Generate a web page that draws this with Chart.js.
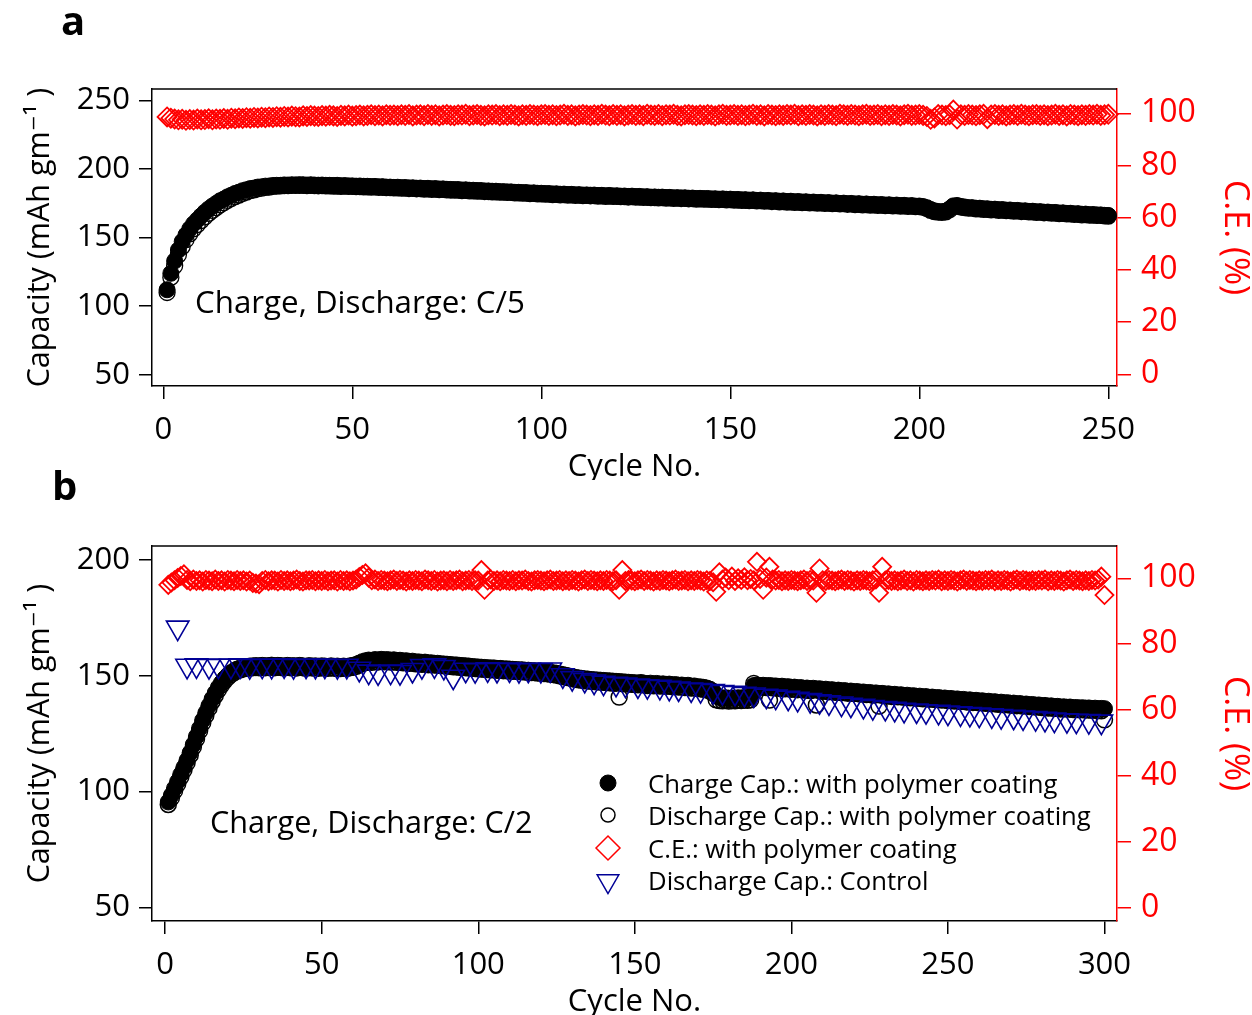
<!DOCTYPE html>
<html><head><meta charset="utf-8">
<script src="https://cdn.jsdelivr.net/npm/chart.js@4.4.1/dist/chart.umd.min.js"></script>
<style>
html,body{margin:0;padding:0;background:#fff;}
body{width:1252px;height:1015px;position:relative;overflow:hidden;}
canvas{position:absolute;left:0;}
#ca{top:0;} #cb{top:460px;}
</style></head><body>
<canvas id="ca" width="1252" height="480"></canvas>
<canvas id="cb" width="1252" height="555"></canvas>
<script>
// ---------- Panel a data (cycles 1..250) ----------
const cyclesA = Array.from({length: 250}, (_, i) => i + 1);
const chargeA = [
112,124,133,141,147.2,152,156.4,160.1,163,165.9,
168.6,171,173.1,175,176.9,178.2,179.8,181,182.3,183.2,
184.3,185,185.8,186.2,186.9,187.1,187.6,187.7,188.1,188.2,
188.2,188.5,188.4,188.6,188.5,188.7,188.6,188.4,188.6,188.4,
188.3,188.4,188.2,188.2,188.1,188.2,187.9,188,187.8,187.8,
187.6,187.7,187.5,187.5,187.3,187.4,187.1,187.2,186.9,186.9,
186.7,186.8,186.5,186.6,186.3,186.4,186.1,186.2,185.9,186,
185.7,185.8,185.5,185.6,185.3,185.2,185.1,185.1,184.8,184.9,
184.6,184.6,184.4,184.4,184.1,184.1,183.9,183.9,183.6,183.6,
183.4,183.4,183.1,183.1,182.9,182.9,182.6,182.7,182.4,182.4,
182.2,182.2,181.9,182,181.7,181.8,181.5,181.6,181.3,181.4,
181.1,181.2,181,181.1,180.8,180.9,180.6,180.8,180.5,180.6,
180.3,180.4,180.1,180.3,180,180.1,179.8,179.9,179.6,179.7,
179.5,179.6,179.3,179.4,179.1,179.2,179,179.1,178.8,178.9,
178.6,178.7,178.5,178.6,178.3,178.4,178.1,178.3,178,178.1,
177.8,177.9,177.6,177.7,177.4,177.6,177.2,177.4,177,177.2,
176.8,177,176.6,176.8,176.4,176.6,176.2,176.4,176,176.2,
175.8,176,175.6,175.8,175.4,175.6,175.2,175.4,175,175.2,
174.8,175,174.6,174.8,174.4,174.6,174.2,174.4,174,174.2,
173.8,174,173.6,173.8,173.4,173.6,173.2,173.4,173,173.1,
172.7,171.9,170.6,169.6,169.1,169,169.4,171,173.2,173.5,
172.8,172.4,171.9,171.9,171.5,171.5,171.1,171.1,170.7,170.8,
170.4,170.5,170.1,170.2,169.8,169.9,169.5,169.6,169.2,169.3,
168.9,169,168.6,168.7,168.3,168.4,168,168.1,167.7,167.8,
167.4,167.5,167.1,167.2,166.8,166.9,166.6,166.6,166.3,166.2];
const dischargeA = [
110,121,129.5,137.5,143.5,148.5,152.8,156.5,159.5,162.5,
165.2,167.7,169.9,171.9,173.9,175.5,177.2,178.6,180,181.1,
182.4,183.3,184.3,184.9,185.7,186.1,186.7,186.9,187.4,187.6,
187.8,188,188,188.1,188.1,188.2,188.2,188,188.1,188,
187.9,188,187.8,187.8,187.7,187.7,187.5,187.6,187.4,187.4,
187.2,187.3,187.1,187.1,186.9,187,186.7,186.8,186.5,186.5,
186.3,186.4,186.1,186.2,185.9,186,185.7,185.8,185.5,185.6,
185.3,185.4,185.1,185.2,184.9,184.8,184.7,184.7,184.4,184.5,
184.2,184.2,184,184,183.7,183.7,183.5,183.5,183.2,183.2,
183,183,182.7,182.7,182.5,182.5,182.2,182.3,182,182,
181.8,181.8,181.5,181.6,181.3,181.4,181.1,181.2,180.9,181,
180.7,180.8,180.6,180.7,180.4,180.5,180.2,180.4,180.1,180.2,
179.9,180,179.7,179.9,179.6,179.7,179.4,179.5,179.2,179.3,
179.1,179.2,178.9,179,178.7,178.8,178.6,178.7,178.4,178.5,
178.2,178.3,178.1,178.2,177.9,178,177.7,177.9,177.6,177.7,
177.4,177.5,177.2,177.3,177,177.2,176.8,177,176.6,176.8,
176.4,176.6,176.2,176.4,176,176.2,175.8,176,175.6,175.8,
175.4,175.6,175.2,175.4,175,175.2,174.8,175,174.6,174.8,
174.4,174.6,174.2,174.4,174,174.2,173.8,174,173.6,173.8,
173.4,173.6,173.2,173.4,173,173.2,172.8,173,172.6,172.7,
172.2,171.3,170,169,168.6,168.5,168.9,170.4,172.6,173,
172.4,172,171.5,171.5,171.1,171.1,170.7,170.7,170.3,170.4,
170,170.1,169.7,169.8,169.4,169.5,169.1,169.2,168.8,168.9,
168.5,168.6,168.2,168.3,167.9,168,167.6,167.7,167.3,167.4,
167,167.1,166.7,166.8,166.4,166.5,166.2,166.2,165.9,165.8];
const ceA = [
98.6,98.1,97.8,97.5,97.7,97.3,97.6,97.4,97.8,97.5,
97.6,97.9,97.5,97.8,97.7,98,97.7,98.1,97.9,98.2,
98,98.3,98.1,98.4,98.2,98.5,98.3,98.6,98.4,98.7,
98.5,98.8,98.6,98.9,98.7,98.6,99,98.8,99.1,98.9,
98.8,99.1,98.9,99.2,99,98.8,99.2,99,99.3,98.9,
99.1,99.3,99,99.2,99.4,99.1,99.3,99,99.4,99.2,
99.3,99.1,99.4,99.2,99.5,99,99.3,99.4,99.1,99.5,
99.2,99.4,99,99.3,99.5,99.2,99.1,99.4,99.3,99.6,
99.1,99.3,99.5,99.2,99,99.4,99.3,99.5,99.1,99.4,
99.2,99.5,99.3,99,99.4,99.2,99.5,99.3,99.1,99.4,
99.5,99.2,99.4,99.1,99.3,99.6,99.2,99.4,99,99.3,
99.5,99.3,99.1,99.4,99.2,99.6,99.3,99.1,99.5,99.2,
99.4,99,99.3,99.5,99.2,99.4,99.1,99.6,99.3,99.2,
99.5,99.1,99.4,99.3,99.6,99.2,99,99.4,99.5,99.3,
99.1,99.4,99.2,99.5,99.3,99,99.4,99.6,99.2,99.3,
99.5,99.2,99.4,99.1,99.3,99.6,99.2,99.4,99,99.5,
99.3,99.1,99.4,99.2,99.5,99.3,99.6,99.1,99.4,99.2,
99.5,99.3,99,99.4,99.2,99.5,99.3,99.1,99.6,99.4,
99.2,99.5,99.3,99.1,99.4,99.6,99.2,99.3,99.5,99.1,
99.4,99.2,99.5,99.3,99,99.4,99.6,99.2,99.3,99.5,
99.2,98.8,97.7,98.2,99.5,99.3,99.1,99.4,101.2,97.8,
99.4,99.2,99.5,99.3,99.1,99.4,99.6,97.9,99.3,99.5,
99.2,99.4,99,99.3,99.5,99.2,99.6,99.3,99.1,99.4,
99.5,99.2,99.4,99.1,99.3,99.6,99.2,99.4,99,99.5,
99.3,99.1,99.4,99.2,99.5,99.3,99.6,99.2,99.4,99.6];

// ---------- Panel b data (cycles 1..300) ----------
const cyclesB = Array.from({length: 300}, (_, i) => i + 1);
const chargeB = [
95.5,98.4,101.4,104.3,107.4,110.4,113.5,116.8,120.3,123.8,
127.3,130.8,134,137.1,140,142.6,145,147,148.8,150.2,
151.3,152.2,152.9,153.4,153.8,154,154.2,154.3,154.4,154.3,
154.5,154.3,154.4,154.6,154.3,154.5,154.4,154.2,154.5,154.3,
154.4,154.2,154.5,154.3,154.1,154.4,154.2,154.3,154.1,154.3,
154.2,154,154.3,154.1,154.2,153.9,154.2,154,154.3,154.5,
154.9,155.5,156.1,156.5,156.8,156.6,157,156.8,157.1,156.9,
157,156.7,156.9,156.6,156.7,156.4,156.5,156.2,156.3,156,
156,155.8,155.9,155.6,155.6,155.4,155.4,155.2,155.1,155,
154.9,154.7,154.7,154.5,154.4,154.3,154.2,154,153.9,153.8,
153.7,153.6,153.5,153.4,153.4,153.2,153.2,153,153,152.9,
152.8,152.7,152.6,152.6,152.4,152.4,152.2,152.2,152,152,
151.8,151.7,151.5,151.3,151.1,150.8,150.5,150.2,149.9,149.6,
149.3,149.1,148.9,148.7,148.6,148.4,148.3,148.2,148.1,148,
147.9,147.8,147.7,147.6,147.5,147.4,147.3,147.2,147.1,147,
146.9,147.1,146.8,146.6,146.8,146.5,146.7,146.4,146.5,146.3,
146.4,146.1,146.2,145.9,146,145.7,145.9,145.5,145.6,145.3,
145.2,145,144.7,144.2,143.3,141.5,140.6,140.4,140.5,140.3,
140.4,140.3,140.5,140.4,140.6,140.5,140.7,145.8,146,145.8,
145.9,145.7,145.8,145.6,145.6,145.4,145.5,145.2,145.3,145,
145.1,144.8,144.9,144.6,144.7,144.4,144.6,144.3,144.4,144.1,
144.2,143.9,144,143.7,143.8,143.5,143.6,143.3,143.4,143.1,
143.2,142.9,143,142.7,142.8,142.5,142.6,142.3,142.4,142.1,
142.2,141.9,142,141.7,141.8,141.5,141.6,141.3,141.4,141.1,
141.2,140.9,141,140.7,140.8,140.5,140.6,140.3,140.4,140.1,
140.2,139.9,140,139.7,139.8,139.5,139.6,139.3,139.4,139.1,
139.2,138.9,139,138.7,138.8,138.5,138.6,138.3,138.4,138.1,
138.2,137.9,138,137.7,137.8,137.5,137.6,137.3,137.4,137.1,
137.2,136.9,137,136.7,136.8,136.5,136.6,136.4,136.5,136.2,
136.3,136.1,136.2,136,136.1,135.9,136,135.8,135.9,135.8];
const dischargeB = [
94.4,97.3,100.3,103.2,106.3,109.3,112.4,115.7,119.2,122.7,
126.2,129.7,132.9,136,138.9,141.5,143.9,146,147.8,149.3,
150.5,151.4,152.1,152.6,153,153.2,153.4,153.5,153.6,153.5,
153.7,153.5,153.6,153.8,153.5,153.7,153.6,153.4,153.7,153.5,
153.6,153.4,153.7,153.5,153.3,153.6,153.4,153.5,153.3,153.5,
153.4,153.2,153.5,153.3,153.4,153.1,153.4,153.2,153.5,153.7,
154.1,154.7,155.3,155.7,156,155.8,156.2,156,156.3,156.1,
156.2,155.9,156.1,155.8,155.9,155.6,155.7,155.4,155.5,155.2,
155.2,155,155.1,154.8,154.8,154.6,154.6,154.4,154.3,154.2,
154.1,153.9,153.9,153.7,153.6,153.5,153.4,153.2,153.1,153,
152.9,152.8,152.7,152.6,152.6,152.4,152.4,152.2,152.2,152.1,
152,151.9,151.8,151.8,151.6,151.6,151.4,151.4,151.2,151.2,
151,150.9,150.7,150.5,150.3,150,149.7,149.4,149.1,148.8,
148.5,148.3,148.1,147.9,147.8,147.6,147.5,147.4,147.3,147.2,
147.1,147,146.9,146.8,140.8,146.6,146.5,146.4,146.3,146.2,
146.1,146.3,146,145.8,146,145.7,145.9,145.6,145.7,145.5,
145.6,145.3,145.4,145.1,145.2,144.9,145.1,144.7,144.8,144.5,
144.4,144.2,143.9,143.4,142.5,139.6,139.3,139.2,139.4,139.1,
139.3,139.2,139.4,139.3,139.5,139.4,139.6,146.7,145.2,145,
145.1,144.9,139.5,144.8,144.8,144.6,144.7,144.4,144.5,144.2,
144.3,144,144.1,143.8,143.9,143.6,143.8,137.4,143.6,143.3,
143.4,143.1,143.2,142.9,143,142.7,142.8,142.5,142.6,142.3,
142.4,142.1,142.2,141.9,142,141.7,141.8,136.9,141.6,141.3,
141.4,141.1,141.2,140.9,141,140.7,140.8,140.5,140.6,140.3,
140.4,140.1,140.2,139.9,140,139.7,139.8,139.5,139.6,139.3,
139.4,139.1,139.2,138.9,139,138.7,138.8,138.5,138.6,138.3,
138.4,138.1,138.2,137.9,138,137.7,137.8,137.5,137.6,137.3,
137.4,137.1,137.2,136.9,137,136.7,136.8,136.5,136.6,136.3,
136.4,136.1,136.2,135.9,136,135.7,135.8,135.6,135.7,135.4,
135.5,135.3,135.4,135.2,135.3,135.1,135.2,135,134.9,131];
const ceB = [
98,98.7,99.4,100.1,100.7,101.2,99.5,99.1,99.6,99.2,
99.4,99,99.5,99.3,99.1,99.6,99.2,99.4,99,99.5,
99.3,99.1,99.5,99.2,99.4,99,99.3,98.6,98.4,98.2,
99.2,99.5,99.1,99.4,99.3,99,99.5,99.2,99.4,99.1,
99.3,99.6,99.2,99,99.4,99.3,99.5,99.1,99.4,99.2,
99.5,99.1,99.3,99.4,99,99.5,99.2,99.4,99.1,99.3,
99.6,100.4,101,101.5,100.2,99.4,99.6,99.2,99.5,99.3,
99.1,99.4,99.6,99.2,99.5,99.3,99,99.4,99.2,99.5,
99.3,99.1,99.6,99.4,99.2,99.5,99,99.3,99.4,99.1,
99.5,99.2,99.4,99.6,99.1,99.3,99.5,99.2,99.4,99.3,
102.5,96.5,99.3,99.6,99.2,99.4,99.1,99.5,99.3,99.2,
99.5,99.1,99.4,99.3,99.6,99.2,99,99.4,99.5,99.3,
99.1,99.4,99.6,99.2,99.3,99.5,99.1,99.4,99.2,99.5,
99.3,99,99.4,99.6,99.2,99.5,99.3,99.1,99.4,99.2,
99.5,99.3,99.1,99.4,96.5,102.5,99.2,99.5,99.3,99.1,
99.4,99.6,99.2,99.5,99.3,99,99.4,99.2,99.5,99.3,
99.1,99.4,99.6,99.2,99.3,99.5,99.1,99.4,99.2,99.5,
99.3,99,99.4,99.2,98.8,95.9,101.8,99.6,100.2,99.4,
100.5,99.2,100,99.5,100.3,99.4,99.8,99.4,105,99.8,
96.5,100.2,103.5,99.6,99.3,99.5,99.1,99.4,99.2,99.5,
99.3,99.1,99.4,99.6,99.2,99.5,99.3,95.6,103,99.4,
99.2,99.5,99.3,99.1,99.4,99.6,99.2,99.5,99.3,99,
99.4,99.2,99.5,99.3,99.1,99.4,99.6,95.6,103.5,99.3,
99.5,99.2,99.4,99.1,99.3,99.6,99.2,99.4,99,99.5,
99.3,99.1,99.4,99.2,99.5,99.3,99.6,99.1,99.4,99.2,
99.5,99.3,99,99.4,99.6,99.2,99.5,99.3,99.1,99.4,
99.2,99.5,99.3,99.6,99.1,99.4,99.2,99.5,99.3,99,
99.4,99.6,99.2,99.5,99.3,99.1,99.4,99.2,99.5,99.3,
99.6,99.1,99.4,99.2,99.5,99.3,99,99.4,99.6,99.2,
99.5,99.3,99.1,99.4,99.2,99.5,99.3,99.6,100.5,94.9];
const controlCyclesB = [
4,7,10,14,17,21,24,27,31,34,
38,41,45,48,51,55,58,62,65,68,
72,75,79,82,86,89,92,96,99,103,
106,110,113,116,120,123,127,130,134,137,
140,144,147,151,154,158,161,164,168,171,
175,178,182,185,188,192,195,199,202,206,
209,212,216,219,223,226,230,233,236,240,
243,247,250,254,257,260,264,267,271,274,
278,281,284,288,291,295,299];
const controlB = [
170.8,154.3,154.5,154.2,154.4,154.3,154.5,154.2,154.4,154.3,
154.5,154.2,154.4,154.3,154.4,154.2,154.3,153,151.8,151.5,
151.8,151.6,152.5,154.2,154.5,153.8,149.6,152.6,152.4,152.8,
152.5,152.7,152.4,152.6,152.5,152.7,150.2,149,148.2,147.5,
147,146.5,146.2,145.8,145.5,145.2,144.8,144.5,144.1,143.8,
143.4,143,142.6,142.2,141.9,141.4,141,140.5,140,139.5,
139,138.5,138,137.5,137,136.5,136.1,135.7,135.3,135,
134.7,134.4,134.1,133.8,133.5,133.2,132.9,132.6,132.3,132,
131.7,131.4,131.1,130.8,130.6,130.4,130.2];

// ---------- ticks & labels ----------
const xTicksA = [0, 50, 100, 150, 200, 250];
const capTicksA = [50, 100, 150, 200, 250];
const xTicksB = [0, 50, 100, 150, 200, 250, 300];
const capTicksB = [50, 100, 150, 200];
const ceTicks = [0, 20, 40, 60, 80, 100];
const legendLabelsB = ['Charge Cap.: with polymer coating', 'Discharge Cap.: with polymer coating', 'C.E.: with polymer coating', 'Discharge Cap.: Control'];

const FONT = '"Open Sans", "DejaVu Sans", sans-serif';
const RED = '#ff0000';
const NAVY = '#000096';

const pts = (xs, ys) => xs.map((x, i) => ({x, y: ys[i]}));
const setTicks = vals => s => { s.ticks = vals.map(v => ({value: v})); };

function gridOpts(color, len) {
  return {display: true, drawOnChartArea: false, drawTicks: true, tickLength: len,
          tickWidth: 1.5, tickColor: color, color: color, lineWidth: 1.5};
}
function xScale(min, max, ticks) {
  return {type: 'linear', position: 'bottom', min, max,
    afterBuildTicks: setTicks(ticks), afterFit: s => { s.height = 94; },
    grid: gridOpts('#000', 13), border: {display: true, color: '#000', width: 1.5},
    ticks: {color: '#000', font: {family: FONT, size: 31, lineHeight: 1}, padding: 16, maxRotation: 0, autoSkip: false},
    title: {display: true, text: 'Cycle No.', color: '#000', font: {family: FONT, size: 31, lineHeight: 0.8}, padding: {top: 0, bottom: 0}}};
}
function capScale(min, max, ticks) {
  return {type: 'linear', position: 'left', min, max,
    afterBuildTicks: setTicks(ticks), afterFit: s => { s.width = 152; },
    grid: gridOpts('#000', 13), border: {display: true, color: '#000', width: 1.5},
    ticks: {color: '#000', font: {family: FONT, size: 31, lineHeight: 1}, padding: 9},
    title: {display: true, text: 'Capacity (mAh gm\u207B\u00B9 )', color: '#000', font: {family: FONT, size: 30.5, lineHeight: 1}, padding: {top: 25, bottom: 0}}};
}
function ceScale(min, max) {
  return {type: 'linear', position: 'right', min, max,
    afterBuildTicks: setTicks(ceTicks), afterFit: s => { s.width = 135; },
    grid: gridOpts(RED, 14), border: {display: true, color: RED, width: 1.5},
    ticks: {color: RED, font: {family: FONT, size: 32, lineHeight: 1}, padding: 10},
    title: {display: true, text: 'C.E. (%)', color: RED, font: {family: FONT, size: 34, lineHeight: 1}, padding: {top: 0, bottom: 0}}};
}
function ds(label, data, axis, style, r, fill, stroke, bw, order, rot) {
  return {label, data, yAxisID: axis, pointStyle: style, pointRadius: r, pointHoverRadius: r,
    pointBackgroundColor: fill, pointBorderColor: stroke, pointBorderWidth: bw,
    backgroundColor: fill, borderColor: stroke, pointRotation: rot || 0, showLine: false, order, clip: false};
}

const decorPlugin = {
  id: 'decor',
  afterDraw(chart, args, o) {
    const {ctx, chartArea: a} = chart;
    ctx.save();
    ctx.strokeStyle = '#000'; ctx.lineWidth = 1.5;
    ctx.beginPath(); ctx.moveTo(a.left - 0.75, a.top); ctx.lineTo(a.right, a.top); ctx.stroke();
    ctx.fillStyle = '#000'; ctx.textAlign = 'left'; ctx.textBaseline = 'alphabetic';
    ctx.font = 'bold 40px ' + FONT;
    ctx.fillText(o.letter, o.lx, o.ly);
    ctx.font = o.noteSize + 'px ' + FONT;
    ctx.fillText(o.note, o.nx, o.ny);
    if (o.legend) {
      const marks = [
        {pointStyle: 'circle', radius: 8, fill: '#000', stroke: '#000', bw: 1, rot: 0},
        {pointStyle: 'circle', radius: 7, fill: 'rgba(0,0,0,0)', stroke: '#000', bw: 1.5, rot: 0},
        {pointStyle: 'rectRot', radius: 12, fill: 'rgba(0,0,0,0)', stroke: RED, bw: 1.5, rot: 0},
        {pointStyle: 'triangle', radius: 12.5, fill: 'rgba(0,0,0,0)', stroke: NAVY, bw: 1.5, rot: 180}];
      const cy = [323, 355, 388, 421];
      const base = [333, 365, 398, 430];
      ctx.font = '25.7px ' + FONT;
      legendLabelsB.forEach((t, i) => {
        const m = marks[i];
        ctx.fillStyle = m.fill; ctx.strokeStyle = m.stroke; ctx.lineWidth = m.bw;
        Chart.helpers.drawPoint(ctx, {pointStyle: m.pointStyle, radius: m.radius, rotation: m.rot, borderWidth: m.bw}, 608, cy[i]);
        ctx.fillStyle = '#000';
        ctx.fillText(t, 648, base[i]);
      });
    }
    ctx.restore();
  }
};

const common = {responsive: false, animation: false, devicePixelRatio: 1, events: [],
  plugins: {legend: {display: false}, tooltip: {enabled: false}}};

new Chart(document.getElementById('ca'), {
  type: 'scatter',
  data: {datasets: [
    ds('Charge', pts(cyclesA, chargeA), 'y', 'circle', 8, '#000', '#000', 1, 1),
    ds('Discharge', pts(cyclesA, dischargeA), 'y', 'circle', 8, 'rgba(0,0,0,0)', '#000', 1.3, 2),
    ds('C.E.', pts(cyclesA, ceA), 'y2', 'rectRot', 9.5, 'rgba(0,0,0,0)', RED, 1.8, 3)
  ]},
  options: Object.assign({}, common, {
    layout: {padding: {top: 89, left: 0, right: 0, bottom: 0}},
    scales: {x: xScale(-2.99, 252.3, xTicksA), y: capScale(41.75, 258.5, capTicksA), y2: ceScale(-4.5, 109.3)},
    plugins: Object.assign({}, common.plugins, {decor: {letter: 'a', lx: 61, ly: 35, note: 'Charge, Discharge: C/5', noteSize: 31.3, nx: 195, ny: 313}})
  }),
  plugins: [decorPlugin]
});

new Chart(document.getElementById('cb'), {
  type: 'scatter',
  data: {datasets: [
    ds('Charge Cap.: with polymer coating', pts(cyclesB, chargeB), 'y', 'circle', 8, '#000', '#000', 1, 1),
    ds('Discharge Cap.: with polymer coating', pts(cyclesB, dischargeB), 'y', 'circle', 8, 'rgba(0,0,0,0)', '#000', 1.5, 2),
    ds('C.E.: with polymer coating', pts(cyclesB, ceB), 'y2', 'rectRot', 9, 'rgba(0,0,0,0)', RED, 1.8, 3),
    ds('Discharge Cap.: Control', pts(controlCyclesB, controlB), 'y', 'triangle', 13, 'rgba(0,0,0,0)', NAVY, 1.6, 0, 180)
  ]},
  options: Object.assign({}, common, {
    layout: {padding: {top: 86, left: 0, right: 0, bottom: 0}},
    scales: {x: xScale(-4.2, 304, xTicksB), y: capScale(44.08, 206.05, capTicksB), y2: ceScale(-4.04, 109.8)},
    plugins: Object.assign({}, common.plugins, {decor: {letter: 'b', lx: 52, ly: 40, note: 'Charge, Discharge: C/2', noteSize: 30.6, nx: 210, ny: 373, legend: true}})
  }),
  plugins: [decorPlugin]
});
</script></body></html>
